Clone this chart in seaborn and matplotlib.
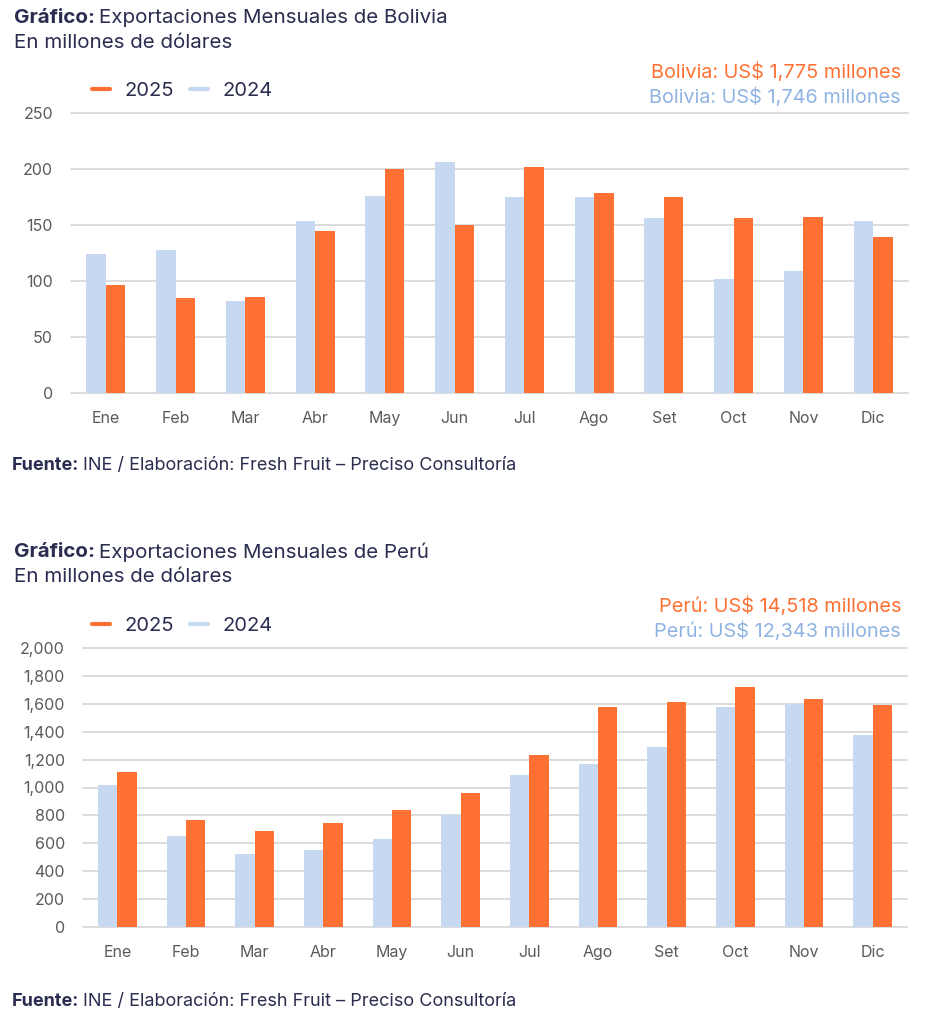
import matplotlib
matplotlib.use("Agg")
import matplotlib.pyplot as plt
import matplotlib.ticker as mticker
from matplotlib.lines import Line2D
import seaborn as sns
import pandas as pd

meses = ["Ene", "Feb", "Mar", "Abr", "May", "Jun", "Jul", "Ago", "Set", "Oct", "Nov", "Dic"]
bolivia_2024 = [124, 128, 82, 154, 176, 206, 175, 175, 156, 102, 109, 154]
bolivia_2025 = [96, 85, 86, 145, 200, 150, 202, 179, 175, 156, 157, 139]
peru_2024 = [1021, 654, 523, 549, 632, 800, 1091, 1172, 1287, 1574, 1597, 1373]
peru_2025 = [1112, 764, 690, 747, 840, 960, 1234, 1578, 1614, 1721, 1635, 1592]
bolivia_ticks = [0, 50, 100, 150, 200, 250]
peru_ticks = [0, 200, 400, 600, 800, 1000, 1200, 1400, 1600, 1800, 2000]

ORANGE = "#FF7133"
LIGHTBLUE = "#C7D9F1"
BLUE_TXT = "#8FB4E3"
NAVY = "#2A2D4F"
GRAY = "#5A5A5A"
GRID = "#D9D9D9"

sns.set_theme(style="white")
FONT = ["Inter", "DejaVu Sans"]
plt.rcParams["font.family"] = FONT

W, H = 947, 1024
fig = plt.figure(figsize=(W / 100, H / 100), dpi=100)
fig.patch.set_facecolor("white")


def fx(px):
    return px / W


def fy(py):
    return 1 - py / H


renderer = fig.canvas.get_renderer()


def bold_regular(x, y, bold, regular, size, color=NAVY):
    t = fig.text(fx(x), fy(y), bold, fontsize=size, fontweight="bold", color=color,
                 va="center", ha="left")
    bb = t.get_window_extent(renderer=renderer)
    fig.text((bb.x1 + 4) / W, fy(y), regular, fontsize=size, color=color,
             va="center", ha="left")


def make_chart(left, right, top, bottom, v24, v25, ticks, fmt, title, total25, total24,
               title_y, legend_y, tot_y1, tot_y2, fuente_y):
    ax = fig.add_axes([fx(left), fy(bottom), fx(right - left), fy(top) - fy(bottom)])
    df = pd.DataFrame({
        "mes": meses * 2,
        "valor": v24 + v25,
        "anio": ["2024"] * 12 + ["2025"] * 12,
    })
    sns.barplot(data=df, x="mes", y="valor", hue="anio", hue_order=["2024", "2025"],
                palette={"2024": LIGHTBLUE, "2025": ORANGE}, width=0.56, ax=ax,
                legend=False, errorbar=None, saturation=1, linewidth=0)
    ax.set_xlim(-0.5, 11.5)
    ax.set_ylim(ticks[0], ticks[-1])
    ax.set_yticks(ticks)
    ax.yaxis.set_major_formatter(mticker.FuncFormatter(fmt))
    ax.set_xlabel("")
    ax.set_ylabel("")
    for s in ax.spines.values():
        s.set_visible(False)
    ax.grid(axis="y", color=GRID, linewidth=1.3)
    ax.grid(axis="x", visible=False)
    ax.set_axisbelow(True)
    ax.tick_params(axis="both", length=0, labelsize=11.5, labelcolor=GRAY)
    ax.tick_params(axis="x", pad=13)
    ax.tick_params(axis="y", pad=13)
    for gl in ax.get_ygridlines():
        gl.set_clip_on(False)

    bold_regular(14, title_y, "Gráfico:", title, 14.8)
    fig.text(fx(14), fy(title_y + 25), "En millones de dólares", fontsize=14.8, color=NAVY,
             va="center", ha="left")

    handles = [Line2D([], [], color=ORANGE, lw=3), Line2D([], [], color=LIGHTBLUE, lw=3)]
    fig.legend(handles, ["2025", "2024"], loc="center left",
               bbox_to_anchor=(fx(92), fy(legend_y)), ncol=2, frameon=False,
               fontsize=14.5, labelcolor=NAVY, handlelength=0.9, handletextpad=0.7,
               columnspacing=0.8, borderpad=0, borderaxespad=0)

    fig.text(fx(901), fy(tot_y1), total25, fontsize=14.3, color=ORANGE, ha="right", va="center")
    fig.text(fx(901), fy(tot_y2), total24, fontsize=14.3, color=BLUE_TXT, ha="right", va="center")

    bold_regular(12, fuente_y, "Fuente:", "INE / Elaboración: Fresh Fruit – Preciso Consultoría", 13)
    return ax


make_chart(71, 908, 113, 393, bolivia_2024, bolivia_2025, bolivia_ticks,
           lambda v, p: f"{int(v)}",
           "Exportaciones Mensuales de Bolivia",
           "Bolivia: US$ 1,775 millones", "Bolivia: US$ 1,746 millones",
           18, 91, 72, 97, 466)

make_chart(83, 907, 648, 927, peru_2024, peru_2025, peru_ticks,
           lambda v, p: f"{int(v):,}",
           "Exportaciones Mensuales de Perú",
           "Perú: US$ 14,518 millones", "Perú: US$ 12,343 millones",
           552, 626, 606, 631, 1001)

fig.savefig("out.png", dpi=100, facecolor="white")
